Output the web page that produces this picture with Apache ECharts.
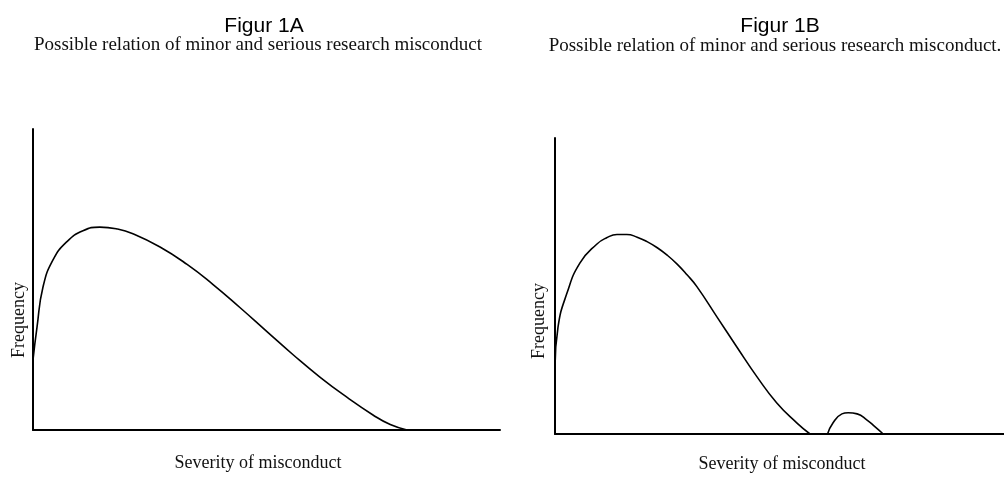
<!DOCTYPE html>
<html>
<head>
<meta charset="utf-8">
<script src="https://cdn.jsdelivr.net/npm/echarts@6/dist/echarts.min.js"></script>
<style>
  html, body { margin: 0; padding: 0; background: #fff; }
  #chart { width: 1004px; height: 477px; }
</style>
</head>
<body>
<div id="chart"></div>
<script>
// Figur 1A: one skewed curve (severity 0-100, frequency 0-100)
const severityA = [0, 0.86, 2.14, 4.28, 7.28, 10.7, 14.3, 18.0, 21.4, 27.2, 33.0, 38.5, 44.3, 50.1, 55.7, 61.5, 67.2, 72.8, 76.5, 80.1];
const frequencyA = [23.3, 34.2, 47.5, 56.5, 62.6, 66.2, 67.4, 66.8, 65.2, 60.8, 55.0, 48.4, 40.7, 32.7, 25.0, 17.5, 10.9, 5.0, 1.8, 0];

// Figur 1B: main curve plus a small separate bump of serious misconduct
const severityB = [0, 0.67, 2.67, 5.57, 9.35, 11.5, 13.8, 16.0, 18.3, 20.5, 22.7, 25.0, 27.2, 29.4, 31.6, 36.1, 40.5, 45.0, 49.4, 53.9, 56.8];
const frequencyB = [22.6, 36.1, 47.6, 57.8, 64.2, 66.3, 67.4, 67.4, 66.5, 65.0, 63.0, 60.4, 57.4, 53.8, 49.8, 39.5, 29.4, 19.3, 10.5, 3.7, 0];
const severityBump = [60.7, 61.9, 63.9, 65.3, 67.3, 69.5, 71.3, 73.1];
const frequencyBump = [0, 3.7, 6.8, 7.2, 6.8, 4.7, 2.4, 0];

const titles = ["Figur 1A", "Figur 1B"];
const subtitles = ["Possible relation of minor and serious research misconduct", "Possible relation of minor and serious research misconduct."];
const xName = "Severity of misconduct";
const yName = "Frequency";

const zip = (xs, ys) => xs.map((x, i) => [x, ys[i]]);

const serif = "'Liberation Serif', 'Times New Roman', serif";
const sans = "'Liberation Sans', Arial, sans-serif";

const axisLine = { show: true, onZero: false, lineStyle: { color: "#000", width: 2 } };
const makeAxis = (gridIndex) => ({
  type: "value", gridIndex: gridIndex, min: 0, max: 100,
  axisLine: axisLine, axisTick: { show: false }, axisLabel: { show: false }, splitLine: { show: false },
});
const lineSeries = (idx, data) => ({
  type: "line", xAxisIndex: idx, yAxisIndex: idx, data: data,
  smooth: 0.5, showSymbol: false, silent: true,
  lineStyle: { color: "#000", width: 1.6 },
});

const chart = echarts.init(document.getElementById("chart"));
chart.setOption({
  animation: false,
  backgroundColor: "#fff",
  title: [
    { text: titles[0], left: 259, top: 11, textAlign: "center", textStyle: { fontFamily: sans, fontSize: 21, fontWeight: "normal", color: "#000" } },
    { text: subtitles[0], left: 253, top: 31, textAlign: "center", textStyle: { fontFamily: serif, fontSize: 19, fontWeight: "normal", color: "#111" } },
    { text: titles[1], left: 775, top: 11, textAlign: "center", textStyle: { fontFamily: sans, fontSize: 21, fontWeight: "normal", color: "#000" } },
    { text: subtitles[1], left: 770, top: 32, textAlign: "center", textStyle: { fontFamily: serif, fontSize: 19, fontWeight: "normal", color: "#111" } },
  ],
  grid: [
    { left: 33, top: 129, width: 467, height: 301 },
    { left: 555, top: 138, width: 449, height: 296 },
  ],
  xAxis: [makeAxis(0), makeAxis(1)],
  yAxis: [makeAxis(0), makeAxis(1)],
  series: [
    lineSeries(0, zip(severityA, frequencyA)),
    lineSeries(1, zip(severityB, frequencyB)),
    lineSeries(1, zip(severityBump, frequencyBump)),
  ],
  graphic: [
    { type: "text", x: 258, y: 463, style: { text: xName, font: "18px " + serif, fill: "#111", align: "center", verticalAlign: "middle" } },
    { type: "text", x: 782, y: 464, style: { text: xName, font: "18px " + serif, fill: "#111", align: "center", verticalAlign: "middle" } },
    { type: "text", x: 19, y: 320, rotation: Math.PI / 2, style: { text: yName, font: "18px " + serif, fill: "#111", align: "center", verticalAlign: "middle" } },
    { type: "text", x: 539, y: 321, rotation: Math.PI / 2, style: { text: yName, font: "18px " + serif, fill: "#111", align: "center", verticalAlign: "middle" } },
  ],
});
</script>
</body>
</html>
